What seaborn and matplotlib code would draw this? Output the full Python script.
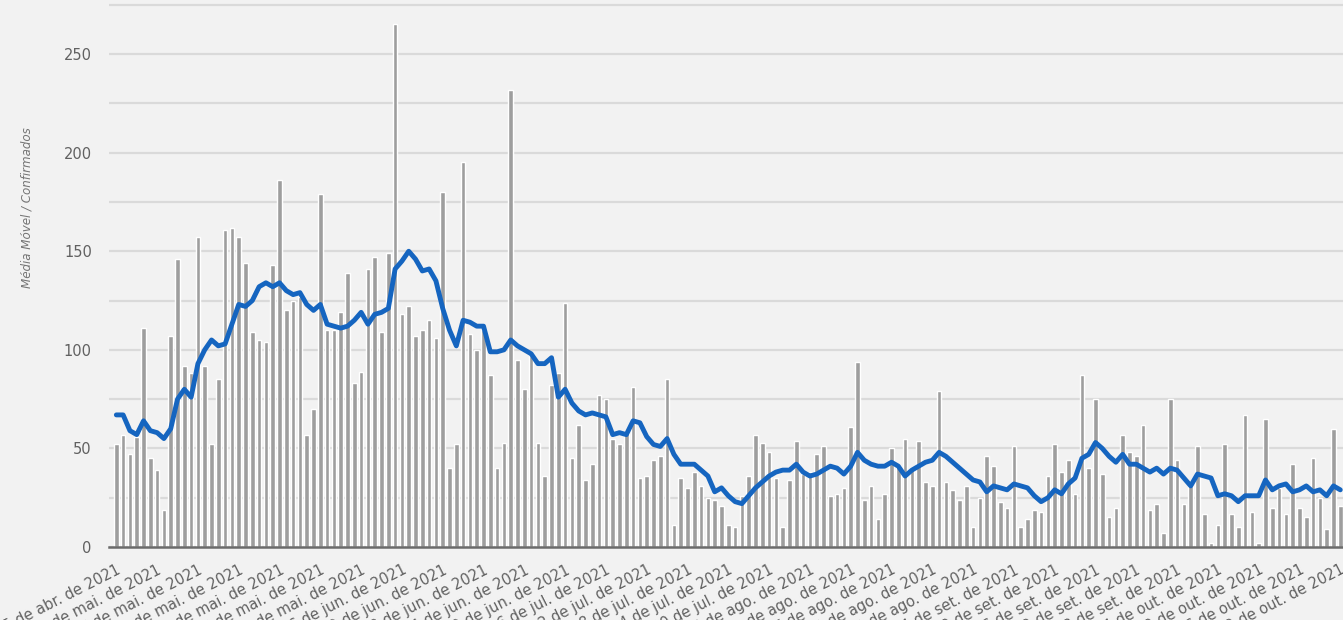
import numpy as np
import pandas as pd
import matplotlib
matplotlib.use("Agg")
import matplotlib.pyplot as plt
import seaborn as sns

# ---- data ----
start_date = "2021-04-25"
confirmados = [
    52, 57, 47, 56, 111, 45, 39, 19, 107, 146,
    92, 88, 157, 92, 52, 85, 161, 162, 157, 144,
    109, 105, 104, 143, 186, 120, 125, 127, 57, 70,
    179, 110, 110, 119, 139, 83, 89, 141, 147, 109,
    149, 265, 118, 122, 107, 110, 115, 106, 180, 40,
    52, 195, 108, 100, 110, 87, 40, 53, 232, 95,
    80, 97, 53, 36, 82, 88, 124, 45, 62, 34,
    42, 77, 75, 55, 52, 58, 81, 35, 36, 44,
    46, 85, 11, 35, 30, 38, 31, 25, 24, 21,
    11, 10, 26, 36, 57, 53, 48, 35, 10, 34,
    54, 37, 38, 47, 51, 26, 27, 30, 61, 94,
    24, 31, 14, 27, 50, 41, 55, 40, 54, 33,
    31, 79, 33, 29, 24, 31, 10, 25, 46, 41,
    23, 20, 51, 10, 14, 19, 18, 36, 52, 38,
    44, 27, 87, 40, 75, 37, 15, 20, 57, 48,
    46, 62, 19, 22, 7, 75, 44, 22, 31, 51,
    17, 2, 11, 52, 17, 10, 67, 18, 2, 65,
    20, 30, 17, 42, 20, 15, 45, 25, 9, 60,
    21,
]
media_movel = [
    67, 67, 59, 57, 64, 59, 58, 55, 60, 75,
    80, 76, 93, 100, 105, 102, 103, 113, 123, 122,
    125, 132, 134, 132, 134, 130, 128, 129, 123, 120,
    123, 113, 112, 111, 112, 115, 119, 113, 118, 119,
    121, 141, 145, 150, 146, 140, 141, 135, 121, 110,
    102, 115, 114, 112, 112, 99, 99, 100, 105, 102,
    100, 98, 93, 93, 96, 76, 80, 73, 69, 67,
    68, 67, 66, 57, 58, 57, 64, 63, 56, 52,
    51, 55, 47, 42, 42, 42, 39, 36, 28, 30,
    26, 23, 22, 26, 30, 33, 36, 38, 39, 39,
    42, 38, 36, 37, 39, 41, 40, 37, 41, 48,
    44, 42, 41, 41, 43, 41, 36, 39, 41, 43,
    44, 48, 46, 43, 40, 37, 34, 33, 28, 31,
    30, 29, 32, 31, 30, 26, 23, 25, 29, 27,
    32, 35, 45, 47, 53, 50, 46, 43, 47, 42,
    42, 40, 38, 40, 37, 40, 39, 35, 31, 37,
    36, 35, 26, 27, 26, 23, 26, 26, 26, 34,
    29, 31, 32, 28, 29, 31, 28, 29, 26, 31,
    29,
]
meses = ["jan.", "fev.", "mar.", "abr.", "mai.", "jun.",
         "jul.", "ago.", "set.", "out.", "nov.", "dez."]
y_ticks = [0, 25, 50, 75, 100, 125, 150, 175, 200, 225, 250, 275]
y_label = "Média Móvel / Confirmados"

# ---- build frame ----
n = len(confirmados)
dias = pd.date_range(start_date, periods=n, freq="D")
rotulos = [f"{d.day} de {meses[d.month - 1]} de {d.year}" for d in dias]
df = pd.DataFrame({"pos": np.arange(n), "dia": rotulos,
                   "confirmados": confirmados, "media": media_movel})

# ---- style ----
sns.set_theme(style="white")
plt.rcParams["font.family"] = ["DejaVu Sans"]
BG = "#f2f2f2"
TXT = "#616161"

fig = plt.figure(figsize=(13.43, 6.20), dpi=100, facecolor=BG)
ax = fig.add_axes([0.0808, 0.1177, 0.9273, 0.8823])
ax.set_facecolor(BG)

sns.barplot(data=df, x="pos", y="confirmados", color="#9e9e9e",
            saturation=1, width=0.69, ax=ax, zorder=2)
sns.lineplot(data=df, x="pos", y="media", color="#1565c0",
             linewidth=3.5, ax=ax, zorder=3)
for ln in ax.lines:
    ln.set_solid_joinstyle("round")
    ln.set_solid_capstyle("round")

ax.set_xlim(-1.15, 182.0)
ax.set_ylim(0, 277.4)

ax.set_yticks(y_ticks)
ax.set_yticklabels([str(v) if v % 50 == 0 else "" for v in y_ticks])
ax.yaxis.grid(True, color="#dadada", linewidth=1.6, zorder=0)
ax.set_axisbelow(True)

tick_pos = list(range(0, n, 6))
ax.set_xticks(tick_pos)
ax.set_xticklabels([rotulos[i] for i in tick_pos], rotation=27,
                   ha="right", va="top", rotation_mode="anchor")
ax.tick_params(axis="x", length=0, pad=11, labelsize=10.5, colors=TXT)
ax.tick_params(axis="y", length=0, pad=12, labelsize=10.5, colors=TXT)

for s in ["top", "right", "left"]:
    ax.spines[s].set_visible(False)
ax.spines["bottom"].set_color("#6b6b6b")
ax.spines["bottom"].set_linewidth(1.8)
ax.spines["bottom"].set_zorder(4)

ax.set_xlabel("")
ax.set_ylabel(y_label, fontsize=8.6, style="italic", color="#757575")
ax.yaxis.set_label_coords(-0.060, 0.62)

fig.savefig("out.png", dpi=100, facecolor=BG)
